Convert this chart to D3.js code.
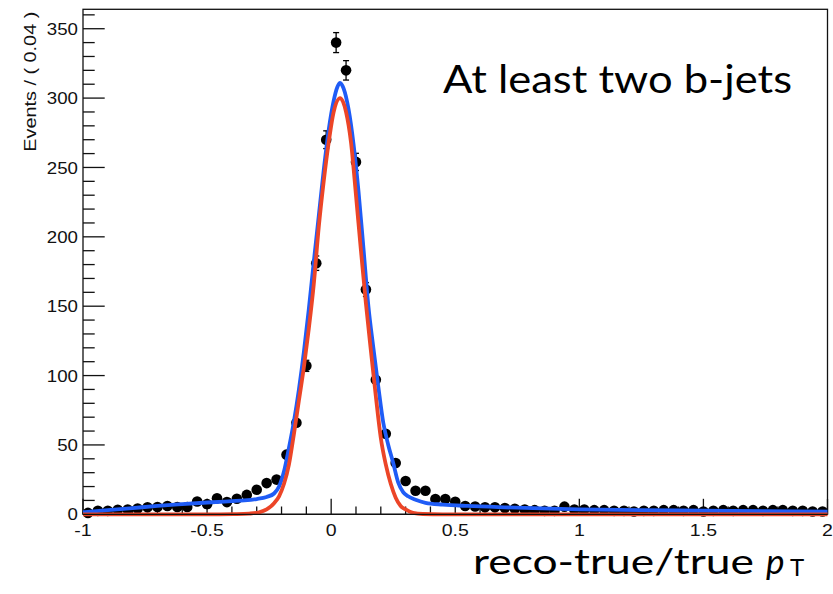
<!DOCTYPE html>
<html><head><meta charset="utf-8">
<script src="https://cdn.jsdelivr.net/npm/d3@7"></script>
<style>html,body{margin:0;padding:0;background:#fff;}</style>
</head><body>
<svg id="c" width="833" height="594"></svg>
<script>
// ---- data ----
const binCenters = [-0.98,-0.94,-0.90,-0.86,-0.82,-0.78,-0.74,-0.70,-0.66,-0.62,-0.58,-0.54,-0.50,-0.46,-0.42,-0.38,-0.34,-0.30,-0.26,-0.22,-0.18,-0.14,-0.10,-0.06,-0.02,0.02,0.06,0.10,0.14,0.18,0.22,0.26,0.30,0.34,0.38,0.42,0.46,0.50,0.54,0.58,0.62,0.66,0.70,0.74,0.78,0.82,0.86,0.90,0.94,0.98,1.02,1.06,1.10,1.14,1.18,1.22,1.26,1.30,1.34,1.38,1.42,1.46,1.50,1.54,1.58,1.62,1.66,1.70,1.74,1.78,1.82,1.86,1.90,1.94,1.98];
const counts = [1,2.5,2.5,3.2,3.5,4.2,5,5.3,6,5.3,5.3,9.2,7.3,11.5,8.8,11.2,14,17.7,22.5,25,43,66,107,181,270,340,320,254,162,97,58,37,24,17,17,11,11,9,6,5.6,5,5,4.5,4,3.5,3,2.5,2.5,5.5,3.5,3.5,3,3,2.5,2.5,2,2.5,2.5,3,3,2.5,3,2,2.5,3,2.5,3,3,2.5,3,3,2.5,2.5,2,2];
const errors = [0.4,0.6,0.6,0.7,0.7,0.8,0.9,0.9,1.0,0.9,0.9,1.2,1.1,1.3,1.2,1.3,1.5,1.6,1.8,2.0,2.6,3.2,4.0,5.2,6.4,7.2,7.0,6.2,5.0,3.8,3.0,2.4,1.9,1.6,1.6,1.3,1.3,1.2,1.0,0.9,0.9,0.9,0.8,0.8,0.7,0.7,0.6,0.6,0.9,0.7,0.7,0.7,0.7,0.6,0.6,0.6,0.6,0.6,0.7,0.7,0.6,0.7,0.6,0.6,0.7,0.6,0.7,0.7,0.6,0.7,0.7,0.6,0.6,0.6,0.6];

const blueX = [-1,-0.9,-0.8,-0.7,-0.6,-0.5,-0.4,-0.35,-0.30,-0.26,-0.23,-0.21,-0.19,-0.17,-0.15,-0.13,-0.11,-0.09,-0.07,-0.05,-0.03,-0.01,0.01,0.025,0.036,0.05,0.07,0.09,0.11,0.13,0.15,0.17,0.19,0.21,0.23,0.25,0.27,0.29,0.31,0.34,0.38,0.45,0.55,0.7,0.85,1.0,1.25,1.5,1.75,2.0];
const blueY = [1.5,3,4.5,6,7.3,8.5,9.5,10,11,12.5,15,20,31,48,67,90,117,148,182,215,248,277,298,308,311,307,292,267,233,192,150,120,92,66,50,37,23,16,13,10.5,8.3,7,6,5,4.2,3.5,3,2.6,2.3,2];

const redX = [-1,-0.45,-0.38,-0.33,-0.29,-0.26,-0.23,-0.21,-0.19,-0.17,-0.15,-0.13,-0.11,-0.09,-0.07,-0.05,-0.03,-0.01,0.01,0.036,0.06,0.08,0.10,0.12,0.14,0.16,0.18,0.20,0.22,0.24,0.26,0.28,0.30,0.33,0.37,0.45,2.0];
const redY = [0,0,0.1,0.5,1.5,3.5,8,13,22,36,58,82,106,134,166,207,240,268,290,300,290,268,230,190,152,118,85,55,36,22,12,6,3.5,1,0.2,0,0];

const xTicks = [-1,-0.5,0,0.5,1,1.5,2];
const xTickLabels = ["-1","-0.5","0","0.5","1","1.5","2"];
const yTicks = [0,50,100,150,200,250,300,350];
const yTickLabels = ["0","50","100","150","200","250","300","350"];
const yTitle = "Events / ( 0.04 )";
const xTitleMain = "reco-true/true";
const plotLabel = "At least two b-jets";

// ---- layout ----
const L = 83, R = 827.5, T = 9.3, B = 514.3;
const svg = d3.select("#c");
const x = d3.scaleLinear().domain([-1, 2]).range([L, R]);
const y = d3.scaleLinear().domain([0, 364]).range([B, T]);

// frame
svg.append("rect").attr("x", L).attr("y", T).attr("width", R - L).attr("height", B - T)
  .attr("fill", "none").attr("stroke", "#111").attr("stroke-width", 1.3);

// y axis ticks
const yMinor = d3.range(0, 361, 10);
svg.append("g").selectAll("line").data(yMinor).join("line")
  .attr("x1", L).attr("x2", d => L + (d % 50 === 0 ? 21.7 : 11.7))
  .attr("y1", d => y(d)).attr("y2", d => y(d))
  .attr("stroke", "#111").attr("stroke-width", 1.3);
svg.append("g").selectAll("text").data(yTicks).join("text")
  .attr("transform", d => `translate(78,${y(d)}) scale(1.1,1)`)
  .attr("dy", "0.36em").attr("text-anchor", "end")
  .attr("font-family", "Liberation Sans, Arial, sans-serif").attr("font-size", 17)
  .attr("fill", "#111")
  .text((d, i) => yTickLabels[i]);

// x axis ticks
const xMinor = d3.range(0, 31).map(i => -1 + i * 0.1);
svg.append("g").selectAll("line").data(xMinor).join("line")
  .attr("x1", d => x(d)).attr("x2", d => x(d))
  .attr("y1", B).attr("y2", (d, i) => B - (i % 5 === 0 ? 15.5 : 7.8))
  .attr("stroke", "#111").attr("stroke-width", 1.3);
svg.append("g").selectAll("text").data(xTicks).join("text")
  .attr("transform", d => `translate(${x(d)},536) scale(1.22,1)`)
  .attr("text-anchor", "middle")
  .attr("font-family", "Liberation Sans, Arial, sans-serif").attr("font-size", 16)
  .attr("fill", "#111")
  .text((d, i) => xTickLabels[i]);

// y title
svg.append("text")
  .attr("transform", "translate(35.5,151.7) rotate(-90)")
  .attr("font-family", "Liberation Sans, Arial, sans-serif").attr("font-size", 16)
  .attr("textLength", 140).attr("lengthAdjust", "spacingAndGlyphs")
  .attr("fill", "#111").text(yTitle);

// data points
const pts = binCenters.map((c, i) => ({x: c, y: counts[i], e: errors[i]}));
const gp = svg.append("g");
const r = 5.3;
pts.forEach(p => {
  const cx = x(p.x), cy = y(p.y), ey1 = y(p.y + p.e), ey2 = y(Math.max(0, p.y - p.e));
  if (cy - ey1 > r) {
    gp.append("line").attr("x1", cx).attr("x2", cx).attr("y1", ey1).attr("y2", ey2)
      .attr("stroke", "#000").attr("stroke-width", 1.3);
    [ey1, ey2].forEach(yy => gp.append("line").attr("x1", cx - 3).attr("x2", cx + 3)
      .attr("y1", yy).attr("y2", yy).attr("stroke", "#000").attr("stroke-width", 1.3));
  }
  gp.append("circle").attr("cx", cx).attr("cy", cy).attr("r", r).attr("fill", "#000");
});

// curves
const line = d3.line().x(d => x(d[0])).y(d => y(d[1])).curve(d3.curveMonotoneX);
svg.append("path").datum(blueX.map((v, i) => [v, blueY[i]]))
  .attr("d", line).attr("fill", "none").attr("stroke", "#1f5cf6").attr("stroke-width", 3.8)
  .attr("stroke-linejoin", "round");
svg.append("path").datum(redX.map((v, i) => [v, redY[i]]))
  .attr("d", line).attr("fill", "none").attr("stroke", "#ec4527").attr("stroke-width", 3.8)
  .attr("stroke-linejoin", "round");

// x axis line over
svg.append("line").attr("x1", L).attr("x2", R).attr("y1", B).attr("y2", B)
  .attr("stroke", "#111").attr("stroke-width", 1.3);

// labels
svg.append("text").attr("x", 443).attr("y", 93.3)
  .attr("font-family", "Lato, 'Open Sans', sans-serif").attr("font-size", 38)
  .attr("textLength", 349).attr("lengthAdjust", "spacingAndGlyphs")
  .attr("fill", "#000").text(plotLabel);

svg.append("text").attr("x", 473).attr("y", 574)
  .attr("font-family", "Lato, 'Open Sans', sans-serif").attr("font-size", 35)
  .attr("textLength", 281).attr("lengthAdjust", "spacingAndGlyphs")
  .attr("fill", "#000").text(xTitleMain);
svg.append("text").attr("x", 766).attr("y", 574)
  .attr("font-family", "Lato, 'Open Sans', sans-serif").attr("font-size", 35)
  .attr("font-style", "italic").attr("fill", "#000").text("p");
svg.append("text").attr("x", 790).attr("y", 576)
  .attr("font-family", "Lato, 'Open Sans', sans-serif").attr("font-size", 24)
  .attr("fill", "#000").text("T");
</script>
</body></html>
